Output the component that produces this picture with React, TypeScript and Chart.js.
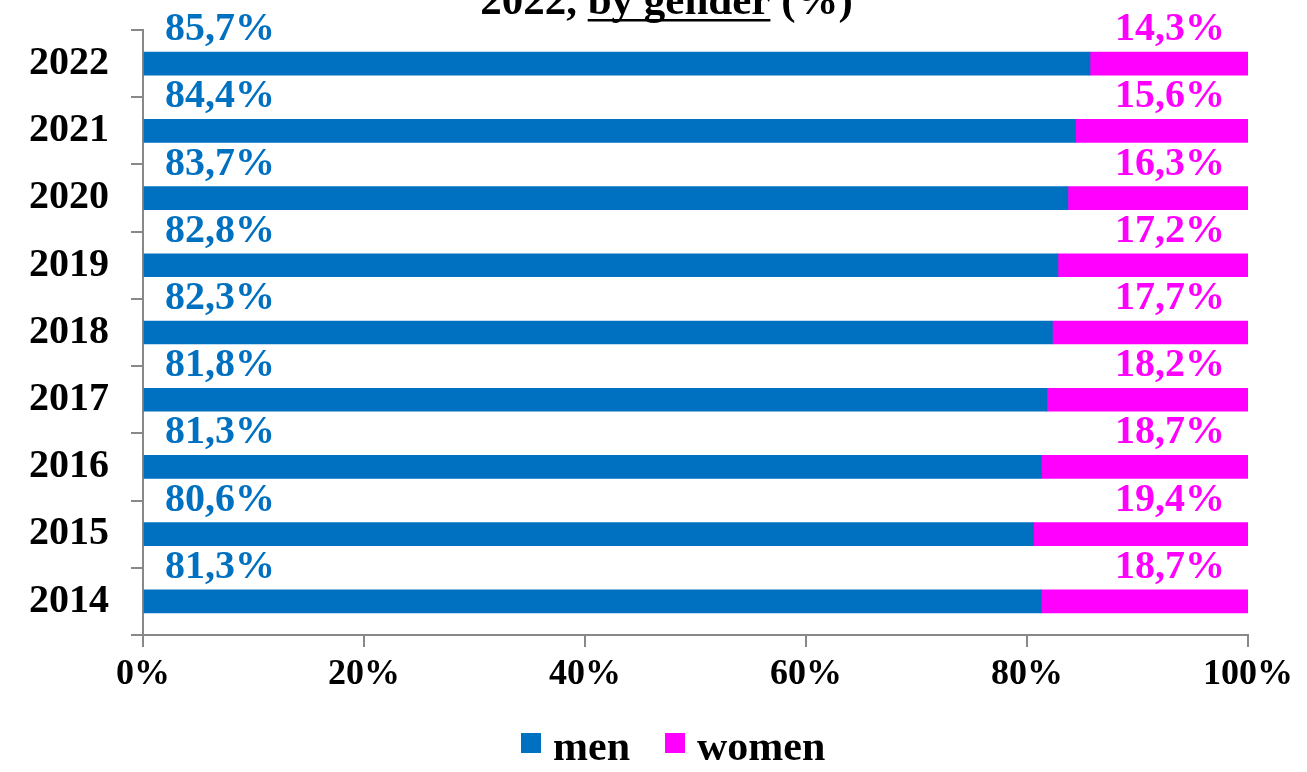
import React, { useEffect, useRef } from 'react';
import { Chart, registerables } from 'chart.js';

Chart.register(...registerables);

const years = ['2022', '2021', '2020', '2019', '2018', '2017', '2016', '2015', '2014'];
const menShare = [85.7, 84.4, 83.7, 82.8, 82.3, 81.8, 81.3, 80.6, 81.3];
const womenShare = [14.3, 15.6, 16.3, 17.2, 17.7, 18.2, 18.7, 19.4, 18.7];
const xTicks = [0, 20, 40, 60, 80, 100];
const seriesNames = ['men', 'women'];
const titleParts = ['2022, ', 'by gender', ' (%)'];

const SERIF = '"Liberation Serif", "Times New Roman", serif';
const MEN_COLOR = '#0070C0';
const WOMEN_COLOR = '#FF00FF';
const AXIS_COLOR = '#888888';

const fmt = (v: number) => v.toFixed(1).replace('.', ',') + '%';

const labelPlugin = {
  id: 'barLabels',
  afterDatasetsDraw(chart: any) {
    const ctx = chart.ctx;
    const meta = chart.getDatasetMeta(0);
    const area = chart.chartArea;
    ctx.save();
    ctx.font = `bold 40px ${SERIF}`;
    ctx.textBaseline = 'alphabetic';
    meta.data.forEach((bar: any, i: number) => {
      const y = bar.y - 23.5;
      ctx.fillStyle = MEN_COLOR;
      ctx.textAlign = 'left';
      ctx.fillText(fmt(menShare[i]), area.left + 22, y);
      ctx.fillStyle = WOMEN_COLOR;
      ctx.textAlign = 'right';
      ctx.fillText(fmt(womenShare[i]), area.right - 23, y);
    });
    ctx.restore();
  },
};

const titlePlugin = {
  id: 'cutTitle',
  afterDraw(chart: any) {
    const ctx = chart.ctx;
    ctx.save();
    ctx.font = `bold 43px ${SERIF}`;
    ctx.fillStyle = '#000';
    ctx.textBaseline = 'alphabetic';
    ctx.textAlign = 'left';
    const widths = titleParts.map((p) => ctx.measureText(p).width);
    const total = widths.reduce((a, b) => a + b, 0);
    const cx = chart.width / 2 + 13;
    let x = cx - total / 2;
    const baseline = 54;
    titleParts.forEach((p, i) => {
      ctx.fillText(p, x, baseline);
      if (i === 1) {
        ctx.fillRect(x, baseline + 5, widths[i], 2.5);
      }
      x += widths[i];
    });
    ctx.restore();
  },
};

const legendPlugin = {
  id: 'customLegend',
  afterDraw(chart: any) {
    const ctx = chart.ctx;
    const area = chart.chartArea;
    ctx.save();
    ctx.font = `bold 42px ${SERIF}`;
    ctx.textBaseline = 'alphabetic';
    ctx.textAlign = 'left';
    const colors = [MEN_COLOR, WOMEN_COLOR];
    let x = area.left + 378;
    const boxTop = 773;
    const baseline = 800;
    seriesNames.forEach((name, i) => {
      ctx.fillStyle = colors[i];
      ctx.fillRect(x, boxTop, 20, 20);
      ctx.fillStyle = '#000';
      ctx.fillText(name, x + 32, baseline);
      x += 32 + ctx.measureText(name).width + 35;
    });
    ctx.restore();
  },
};

export default function App() {
  const canvasRef = useRef<HTMLCanvasElement | null>(null);

  useEffect(() => {
    if (!canvasRef.current) return;
    const chart = new Chart(canvasRef.current, {
      type: 'bar',
      data: {
        labels: years,
        datasets: [
          {
            label: seriesNames[0],
            data: menShare,
            backgroundColor: MEN_COLOR,
            borderWidth: 0,
            barThickness: 23,
          },
          {
            label: seriesNames[1],
            data: womenShare,
            backgroundColor: WOMEN_COLOR,
            borderWidth: 0,
            barThickness: 23,
          },
        ],
      },
      options: {
        indexAxis: 'y',
        responsive: false,
        animation: false,
        devicePixelRatio: 1,
        layout: { padding: { top: 70, right: 59, bottom: 67, left: 0 } },
        plugins: {
          legend: { display: false },
          title: { display: false },
          tooltip: { enabled: false },
        },
        scales: {
          x: {
            stacked: true,
            min: 0,
            max: 100,
            afterBuildTicks: (scale: any) => {
              scale.ticks = xTicks.map((v) => ({ value: v }));
            },
            afterFit: (scale: any) => {
              scale.height = 70;
            },
            ticks: {
              callback: (v: any) => v + '%',
              font: { family: SERIF, size: 36, weight: 'bold' },
              color: '#000',
              padding: 6,
              maxRotation: 0,
            },
            grid: {
              drawOnChartArea: false,
              drawTicks: true,
              tickLength: 12,
              color: AXIS_COLOR,
              lineWidth: 2,
            },
            border: { color: AXIS_COLOR, width: 2 },
          },
          y: {
            stacked: true,
            afterFit: (scale: any) => {
              scale.width = 143;
            },
            ticks: {
              font: { family: SERIF, size: 40, weight: 'bold' },
              color: '#000',
              padding: 22,
            },
            grid: {
              drawOnChartArea: false,
              drawTicks: true,
              tickLength: 12,
              color: AXIS_COLOR,
              lineWidth: 2,
              offset: true,
            },
            border: { color: AXIS_COLOR, width: 2 },
          },
        },
      },
      plugins: [labelPlugin, titlePlugin, legendPlugin],
    } as any);
    return () => chart.destroy();
  }, []);

  return (
    <div style={{ position: 'fixed', left: 0, top: -40, width: 1307, height: 812, background: '#fff' }}>
      <canvas ref={canvasRef} width={1307} height={812} style={{ width: 1307, height: 812, display: 'block' }} />
    </div>
  );
}
